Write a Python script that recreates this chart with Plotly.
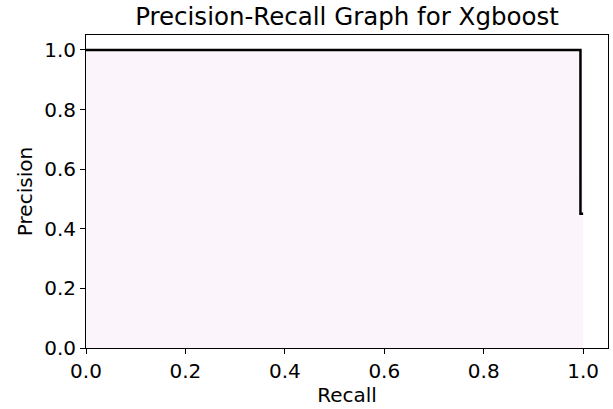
import plotly.graph_objects as go

recall = [0.0, 0.9946, 1.0]
precision = [1.0, 1.0, 0.45]
step_x = [0.0, 0.9946, 0.9946, 1.0]
step_y = [1.0, 1.0, 0.45, 0.45]
x_ticks = [0.0, 0.2, 0.4, 0.6, 0.8, 1.0]
y_ticks = [0.0, 0.2, 0.4, 0.6, 0.8, 1.0]

fig = go.Figure()
fig.add_trace(go.Scatter(x=recall, y=precision, mode="lines", line=dict(width=0),
                         fill="tozeroy", fillcolor="#fcf4fb", hoverinfo="skip", showlegend=False))
fig.add_trace(go.Scatter(x=step_x, y=step_y, mode="lines",
                         line=dict(color="black", width=2.5), showlegend=False))

font = "DejaVu Sans"
axis_common = dict(showline=True, linecolor="black", linewidth=1, mirror=True,
                   ticks="outside", ticklen=5, tickwidth=1, tickcolor="black",
                   showgrid=False, zeroline=False, automargin=False,
                   tickfont=dict(family=font, size=20, color="black"),
                   tickformat=".1f")
fig.update_xaxes(range=[0, 1.05], tickvals=x_ticks,
                 title=dict(text="Recall", font=dict(family=font, size=20, color="black"), standoff=4),
                 **axis_common)
fig.update_yaxes(range=[0, 1.05], tickvals=y_ticks,
                 title=dict(text="Precision", font=dict(family=font, size=20, color="black"), standoff=6),
                 **axis_common)
fig.update_layout(
    width=613, height=409,
    margin=dict(l=86, r=5, t=35, b=61),
    plot_bgcolor="white", paper_bgcolor="white",
    title=dict(text="Precision-Recall Graph for Xgboost", x=0.5, xref="paper", xanchor="center",
               y=0.960, yanchor="middle", font=dict(family=font, size=24.5, color="black")),
)
fig.write_html("out.html", config={"displayModeBar": False},
               post_script="document.body.style.margin='0';")
